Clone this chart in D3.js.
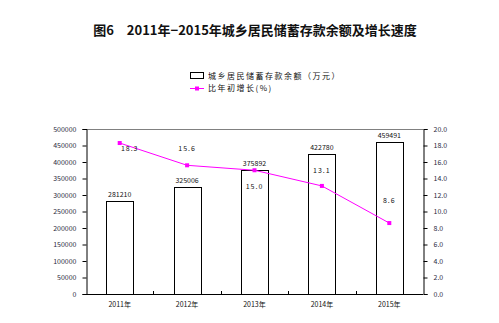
<!DOCTYPE html>
<html>
<head>
<meta charset="utf-8">
<script src="https://cdn.jsdelivr.net/npm/d3@7"></script>
<style>
  body { margin: 0; background: #fff; }
  svg { display: block; }
  text { font-family: "Noto Sans CJK SC", "Noto Sans", sans-serif; }
</style>
</head>
<body>
<svg id="chart" width="499" height="323"></svg>
<script>
// Savings balances and growth rates, 2011–2015
const years = ["2011年", "2012年", "2013年", "2014年", "2015年"];
const balances = [281210, 325006, 375892, 422780, 459491];
const growth = [18.3, 15.6, 15.0, 13.1, 8.6];
const growthLabels = ["18.3", "15.6", "15.0", "13.1", "8.6"];
const leftTicks = [0, 50000, 100000, 150000, 200000, 250000, 300000, 350000, 400000, 450000, 500000];
const rightTicks = [0, 2, 4, 6, 8, 10, 12, 14, 16, 18, 20];

const svg = d3.select("#chart");
const m = { left: 86, right: 423, top: 129, bottom: 294 };
const magenta = "#ff00ff";
const tickFont = 7;

const x = d3.scaleBand().domain(years).range([m.left, m.right]).paddingInner(0).paddingOuter(0);
const yL = d3.scaleLinear().domain([0, 500000]).range([m.bottom, m.top]);
const yR = d3.scaleLinear().domain([0, 20]).range([m.bottom, m.top]);

// Title
svg.append("text")
  .attr("x", 255).attr("y", 35)
  .attr("text-anchor", "middle")
  .attr("font-size", 13).attr("font-weight", "bold")
  .attr("fill", "#111")
  .attr("xml:space", "preserve")
  .text("图6　2011年−2015年城乡居民储蓄存款余额及增长速度");

// Legend
const lg = svg.append("g");
lg.append("rect").attr("x", 190.5).attr("y", 72.5).attr("width", 13).attr("height", 6)
  .attr("fill", "#fff").attr("stroke", "#000").attr("stroke-width", 1);
lg.append("text").attr("x", 208).attr("y", 79).attr("font-size", 8).attr("letter-spacing", 1.5)
  .attr("fill", "#111").text("城乡居民储蓄存款余额（万元）");
lg.append("line").attr("x1", 190).attr("x2", 204).attr("y1", 88.5).attr("y2", 88.5)
  .attr("stroke", magenta).attr("stroke-width", 1);
lg.append("rect").attr("x", 195).attr("y", 86.5).attr("width", 4).attr("height", 4).attr("fill", magenta);
lg.append("text").attr("x", 208).attr("y", 91).attr("font-size", 8).attr("letter-spacing", 1.5)
  .attr("fill", "#111").text("比年初增长(%)");

// Plot frame: top border and axes
svg.append("line").attr("x1", m.left).attr("x2", m.right).attr("y1", m.top + 0.5).attr("y2", m.top + 0.5)
  .attr("stroke", "#808080").attr("stroke-width", 1);

const leftAxis = d3.axisLeft(yL).tickValues(leftTicks).tickSize(4).tickPadding(6).tickFormat(d3.format("d"));
const gL = svg.append("g").attr("transform", `translate(${m.left + 0.5},0)`).call(leftAxis);
gL.select(".domain").attr("stroke", "#000");
gL.selectAll(".tick line").attr("stroke", "#000");
gL.selectAll("text").attr("font-size", tickFont).attr("fill", "#2a2a40").attr("font-family", "\"DejaVu Sans\", sans-serif");

const rightAxis = d3.axisRight(yR).tickValues(rightTicks).tickSize(4).tickPadding(6).tickFormat(d3.format(".1f"));
const gR = svg.append("g").attr("transform", `translate(${m.right + 0.5},0)`).call(rightAxis);
gR.select(".domain").attr("stroke", "#000");
gR.selectAll(".tick line").attr("stroke", "#000");
gR.selectAll("text").attr("font-size", tickFont).attr("fill", "#2a2a40").attr("font-family", "\"DejaVu Sans\", sans-serif");

// Bottom axis with inward ticks at category boundaries
svg.append("line").attr("x1", m.left).attr("x2", m.right).attr("y1", m.bottom + 0.5).attr("y2", m.bottom + 0.5)
  .attr("stroke", "#000");
years.forEach((yr, i) => {
  if (i === 0) return;
  const bx = Math.round(x(yr)) + 0.5;
  svg.append("line").attr("x1", bx).attr("x2", bx).attr("y1", m.bottom).attr("y2", m.bottom - 3).attr("stroke", "#000");
});
svg.append("g").selectAll("text").data(years).join("text")
  .attr("x", d => x(d) + x.bandwidth() / 2)
  .attr("y", 307)
  .attr("text-anchor", "middle")
  .attr("font-size", tickFont).attr("fill", "#111")
  .text(d => d);

// Bars
const barW = x.bandwidth() * 0.4;
svg.append("g").selectAll("rect").data(balances).join("rect")
  .attr("x", (d, i) => Math.round(x(years[i]) + x.bandwidth() / 2 - barW / 2) + 0.5)
  .attr("y", d => Math.round(yL(d)) + 0.5)
  .attr("width", Math.round(barW))
  .attr("height", d => m.bottom - Math.round(yL(d)))
  .attr("fill", "#fff").attr("stroke", "#000").attr("stroke-width", 1);

svg.append("g").selectAll("text").data(balances).join("text")
  .attr("x", (d, i) => x(years[i]) + x.bandwidth() / 2)
  .attr("y", d => yL(d) - 4)
  .attr("text-anchor", "middle")
  .attr("font-size", tickFont).attr("fill", "#111")
  .attr("font-family", "\"DejaVu Sans\", sans-serif")
  .text(d => d);

// Growth line
const cx = i => x(years[i]) + x.bandwidth() / 2;
const line = d3.line().x((d, i) => cx(i)).y(d => yR(d));
svg.append("path").datum(growth).attr("d", line)
  .attr("fill", "none").attr("stroke", magenta).attr("stroke-width", 1);
svg.append("g").selectAll("rect").data(growth).join("rect")
  .attr("x", (d, i) => cx(i) - 2).attr("y", d => yR(d) - 2)
  .attr("width", 4).attr("height", 4).attr("fill", magenta);

// Growth labels: placement offsets relative to each point
const labelDy = [8, -14, 19, -13, -20];
const labelDx = [10, 0, 0, 0, 0];
svg.append("g").selectAll("text").data(growth).join("text")
  .attr("x", (d, i) => cx(i) + labelDx[i])
  .attr("y", (d, i) => yR(d) + labelDy[i])
  .attr("text-anchor", "middle")
  .attr("font-size", tickFont).attr("fill", "#111")
  .attr("font-family", "\"DejaVu Sans\", sans-serif")
  .attr("letter-spacing", 1)
  .text((d, i) => growthLabels[i]);
</script>
</body>
</html>
